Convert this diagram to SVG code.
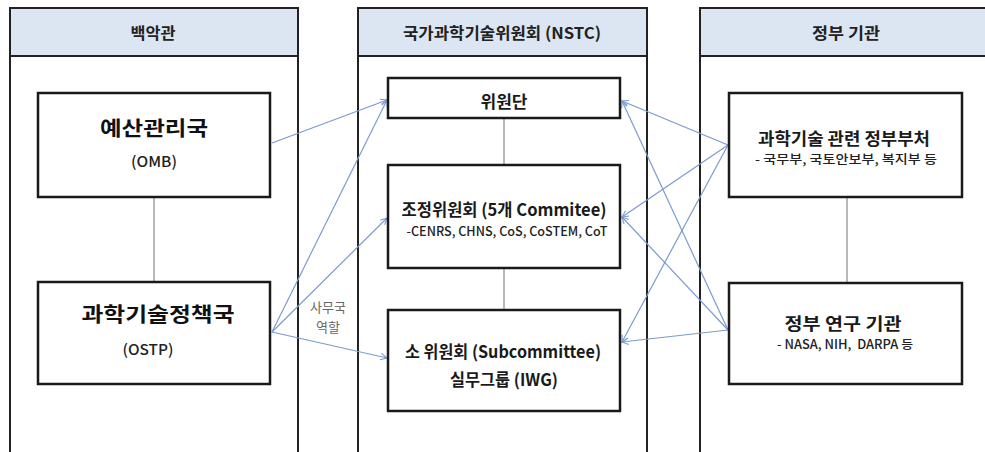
<svg xmlns="http://www.w3.org/2000/svg" width="985" height="452" viewBox="0 0 985 452">
<style>
.panel{fill:#fff;stroke:#222;stroke-width:2}
.head{fill:#dce6f2;stroke:#222;stroke-width:2}
.box{fill:#fff;stroke:#1a1a1a;stroke-width:2.5}
.link{stroke:#8a8a8a;stroke-width:1.2;fill:none}
.arr{stroke:#7b9bd0;stroke-width:1.2;fill:none;marker-end:url(#ah)}
text{font-family:"Noto Sans CJK KR","Noto Sans",sans-serif;text-anchor:middle;dominant-baseline:central}
.ht{font-size:16px;fill:#222;font-weight:600}
.bt{font-size:20px;fill:#111;font-weight:700}
.mt{font-size:17px;fill:#1a1a1a;font-weight:600}
.st{font-size:15px;fill:#222;font-weight:500}
.sm{font-size:12.5px;fill:#222;font-weight:500}
.lb{font-size:13px;fill:#666}
</style>
<defs>
<marker id="ah" viewBox="0 0 10 10" refX="9" refY="5" markerWidth="8" markerHeight="8" orient="auto" markerUnits="userSpaceOnUse">
<path d="M1,1 L9,5 L1,9" fill="none" stroke="#7b9bd0" stroke-width="1.3"/>
</marker>
</defs>
<g id="panel-whitehouse">
<rect class="panel" x="10" y="8" width="288" height="460"/>
<rect class="head" x="10" y="8" width="288" height="48"/>
<text class="ht" x="153" y="32" textLength="45" lengthAdjust="spacingAndGlyphs">백악관</text>
</g>
<g id="panel-nstc">
<rect class="panel" x="358" y="8" width="289" height="460"/>
<rect class="head" x="358" y="8" width="289" height="48"/>
<text class="ht" x="502" y="32" textLength="198" lengthAdjust="spacingAndGlyphs">국가과학기술위원회 (NSTC)</text>
</g>
<g id="panel-gov">
<rect class="panel" x="700" y="8" width="300" height="460"/>
<rect class="head" x="700" y="8" width="300" height="48"/>
<text class="ht" x="846" y="32" textLength="68" lengthAdjust="spacingAndGlyphs">정부 기관</text>
</g>
<g id="connectors">
<line class="link" x1="154" y1="197" x2="154" y2="282"/>
<line class="link" x1="504" y1="118" x2="504" y2="165"/>
<line class="link" x1="504" y1="268" x2="504" y2="310"/>
<line class="link" x1="847" y1="197" x2="847" y2="283"/>
<line class="arr" x1="272" y1="143" x2="387" y2="100"/>
<line class="arr" x1="272" y1="332" x2="387" y2="100"/>
<line class="arr" x1="272" y1="332" x2="387" y2="218"/>
<line class="arr" x1="272" y1="332" x2="387" y2="358"/>
<line class="arr" x1="728" y1="145" x2="622" y2="101"/>
<line class="arr" x1="728" y1="145" x2="622" y2="217"/>
<line class="arr" x1="728" y1="145" x2="622" y2="342"/>
<line class="arr" x1="728" y1="330" x2="622" y2="101"/>
<line class="arr" x1="728" y1="330" x2="622" y2="217"/>
<line class="arr" x1="728" y1="330" x2="622" y2="342"/>
<text class="lb" x="328" y="306">사무국</text>
<text class="lb" x="328" y="326">역할</text>
</g>
<g id="omb">
<rect class="box" x="38" y="93" width="232" height="104"/>
<text class="bt" x="154" y="127" textLength="108" lengthAdjust="spacingAndGlyphs">예산관리국</text>
<text class="st" x="154" y="160" textLength="46" lengthAdjust="spacingAndGlyphs">(OMB)</text>
</g>
<g id="ostp">
<rect class="box" x="38" y="282" width="232" height="102"/>
<text class="bt" x="158" y="313" textLength="153" lengthAdjust="spacingAndGlyphs">과학기술정책국</text>
<text class="st" x="148" y="348" textLength="51" lengthAdjust="spacingAndGlyphs">(OSTP)</text>
</g>
<g id="council">
<rect class="box" x="388" y="78" width="232" height="40"/>
<text class="mt" x="504" y="100" textLength="47" lengthAdjust="spacingAndGlyphs">위원단</text>
</g>
<g id="coordination">
<rect class="box" x="388" y="165" width="232" height="103"/>
<text class="mt" x="504" y="208" textLength="205" lengthAdjust="spacingAndGlyphs">조정위원회 (5개 Commitee)</text>
<text class="sm" x="507" y="230" textLength="201" lengthAdjust="spacingAndGlyphs">-CENRS, CHNS, CoS, CoSTEM, CoT</text>
</g>
<g id="subcommittee">
<rect class="box" x="388" y="310" width="232" height="101"/>
<text class="mt" x="503" y="350" textLength="196" lengthAdjust="spacingAndGlyphs">소 위원회 (Subcommittee)</text>
<text class="mt" x="504" y="378" textLength="108" lengthAdjust="spacingAndGlyphs">실무그룹 (IWG)</text>
</g>
<g id="ministries">
<rect class="box" x="729" y="93" width="233" height="104"/>
<text class="mt" x="844" y="137" textLength="172" lengthAdjust="spacingAndGlyphs">과학기술 관련 정부부처</text>
<text class="sm" x="846" y="158" textLength="182" lengthAdjust="spacingAndGlyphs">- 국무부, 국토안보부, 복지부 등</text>
</g>
<g id="research">
<rect class="box" x="729" y="283" width="233" height="101"/>
<text class="mt" x="843" y="322" textLength="117" lengthAdjust="spacingAndGlyphs">정부 연구 기관</text>
<text class="sm" x="845" y="343" textLength="136" lengthAdjust="spacingAndGlyphs">- NASA, NIH,&#160; DARPA 등</text>
</g>
</svg>
